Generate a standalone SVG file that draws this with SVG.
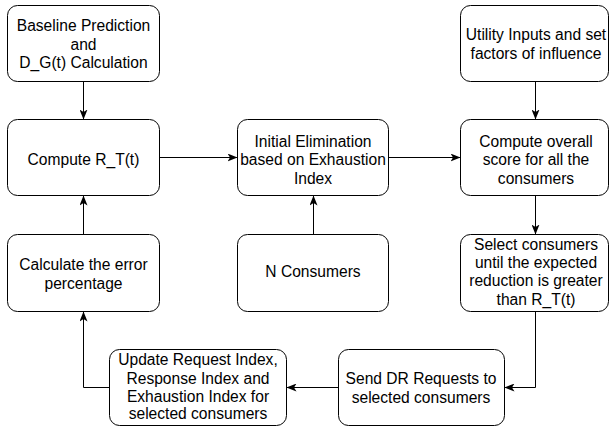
<svg xmlns="http://www.w3.org/2000/svg" width="610" height="429" viewBox="0 0 610 429">
<style>
.box{fill:#fff;stroke:#000;stroke-width:1}
.lbl{font-family:"Liberation Sans",Arial,Helvetica,sans-serif;font-size:15.6px;fill:#000;text-anchor:middle}
.edge{fill:none;stroke:#000;stroke-width:1;marker-end:url(#arr)}
</style>
<defs>
<marker id="arr" markerUnits="userSpaceOnUse" viewBox="0 0 10 8" markerWidth="10" markerHeight="8" refX="9.5" refY="4" orient="auto">
<path d="M0,0 L10,4 L0,8 L2.5,4 z" fill="#000"/>
</marker>
</defs>
<rect width="610" height="429" fill="#fff"/>
<g id="connectors">
<path class="edge" d="M83.5,81.5 V119"/>
<path class="edge" d="M159.5,157.5 H237"/>
<path class="edge" d="M388.5,157.5 H460"/>
<path class="edge" d="M535.5,81.5 V119"/>
<path class="edge" d="M535.5,195.5 V234"/>
<path class="edge" d="M535.5,311.5 V387.5 H505"/>
<path class="edge" d="M338.5,387.5 H287"/>
<path class="edge" d="M109.5,387.5 H83.5 V312"/>
<path class="edge" d="M83.5,234.5 V196"/>
<path class="edge" d="M313.5,234.5 V196"/>
</g>
<g id="baseline">
<rect class="box" x="7.5" y="5.5" width="152" height="76" rx="10"/>
<text class="lbl" x="83.5" y="30.5">Baseline Prediction</text>
<text class="lbl" x="83.5" y="49.5">and</text>
<text class="lbl" x="83.5" y="67.5">D_G(t) Calculation</text>
</g>
<g id="computeRT">
<rect class="box" x="7.5" y="119.5" width="152" height="76" rx="10"/>
<text class="lbl" x="83.5" y="165">Compute R_T(t)</text>
</g>
<g id="initialElimination">
<rect class="box" x="237.5" y="119.5" width="151" height="76" rx="10"/>
<text class="lbl" x="313" y="146.5">Initial Elimination</text>
<text class="lbl" x="313" y="165">based on Exhaustion</text>
<text class="lbl" x="313" y="183.5">Index</text>
</g>
<g id="utilityInputs">
<rect class="box" x="460.5" y="5.5" width="148" height="76" rx="10"/>
<text class="lbl" x="536" y="40">Utility Inputs and set</text>
<text class="lbl" x="536" y="58.5">factors of influence</text>
</g>
<g id="computeScore">
<rect class="box" x="460.5" y="119.5" width="148" height="76" rx="10"/>
<text class="lbl" x="536" y="146.5">Compute overall</text>
<text class="lbl" x="536" y="165">score for all the</text>
<text class="lbl" x="536" y="183.5">consumers</text>
</g>
<g id="calculateError">
<rect class="box" x="7.5" y="234.5" width="152" height="77" rx="10"/>
<text class="lbl" x="83.5" y="270">Calculate the error</text>
<text class="lbl" x="83.5" y="289">percentage</text>
</g>
<g id="nConsumers">
<rect class="box" x="237.5" y="234.5" width="151" height="77" rx="10"/>
<text class="lbl" x="313" y="277">N Consumers</text>
</g>
<g id="selectConsumers">
<rect class="box" x="460.5" y="234.5" width="148" height="77" rx="10"/>
<text class="lbl" x="536" y="249.5">Select consumers</text>
<text class="lbl" x="536" y="268">until the expected</text>
<text class="lbl" x="536" y="286">reduction is greater</text>
<text class="lbl" x="536" y="304.5">than R_T(t)</text>
</g>
<g id="updateIndex">
<rect class="box" x="109.5" y="349.5" width="177" height="76" rx="10"/>
<text class="lbl" x="198" y="365">Update Request Index,</text>
<text class="lbl" x="198" y="383.5">Response Index and</text>
<text class="lbl" x="198" y="401.5">Exhaustion Index for</text>
<text class="lbl" x="198" y="418.5">selected consumers</text>
</g>
<g id="sendDR">
<rect class="box" x="338.5" y="349.5" width="166" height="76" rx="10"/>
<text class="lbl" x="421" y="383.5">Send DR Requests to</text>
<text class="lbl" x="421" y="402.5">selected consumers</text>
</g>
</svg>
